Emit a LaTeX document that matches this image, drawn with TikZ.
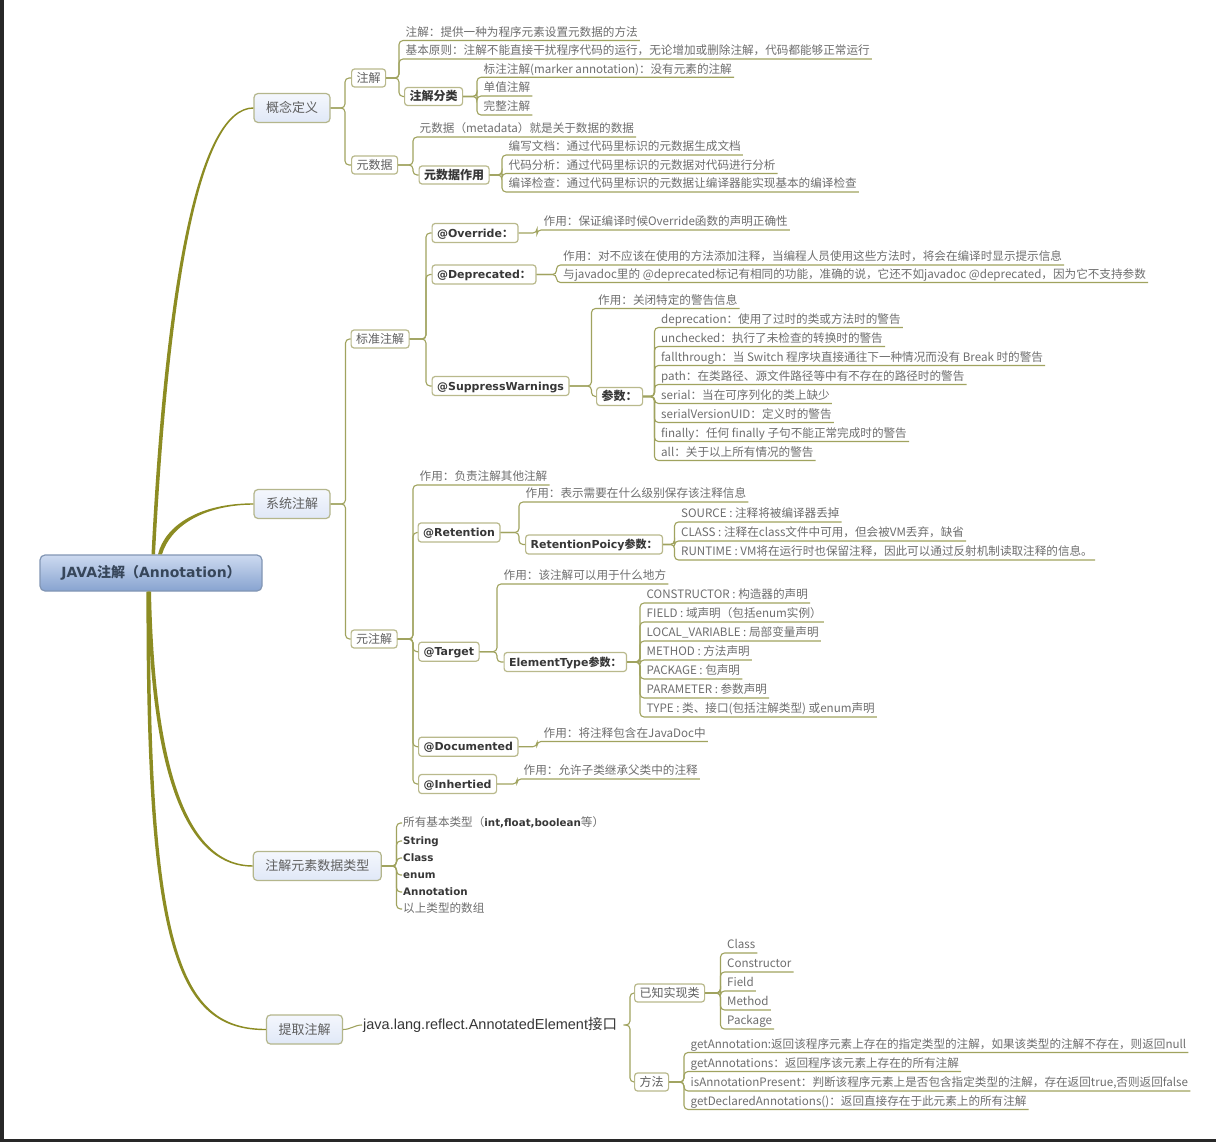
\documentclass[tikz,border=0pt]{standalone}
\usepackage{fontspec}
\setmainfont{Noto Sans CJK SC}
\newfontfamily\dvs{DejaVu Sans}
\newfontfamily\lib{Liberation Sans}
\definecolor{brc}{RGB}{160,163,95}
\definecolor{leafc}{RGB}{110,110,110}
\definecolor{darkc}{RGB}{55,55,55}
\definecolor{boxc}{RGB}{185,185,140}
\definecolor{boxt}{RGB}{95,95,95}
\definecolor{gT}{RGB}{244,247,253}
\definecolor{gB}{RGB}{224,232,247}
\definecolor{gb}{RGB}{180,182,140}
\definecolor{trunkc}{RGB}{140,140,35}
\definecolor{rootT}{RGB}{205,218,240}
\definecolor{rootB}{RGB}{135,163,208}
\definecolor{rootb}{RGB}{130,150,180}
\definecolor{roottx}{RGB}{55,70,90}
\definecolor{framec}{RGB}{40,40,40}
\tikzset{
  br/.style={draw=brc, line width=1.1pt, rounded corners=4pt},
  leaf/.style={anchor=south west, inner xsep=2pt, inner ysep=1pt, text height=9pt, text depth=3pt, font=\fontsize{11.6}{13}\selectfont, text=leafc},
  item/.style={anchor=west, inner xsep=1pt, inner ysep=1pt, text height=9pt, text depth=2.5pt, font=\fontsize{11.6}{13}\selectfont, text=leafc},
  box/.style={draw=boxc, line width=1.2pt, fill=white, rounded corners=3pt, inner xsep=5pt, inner ysep=2pt, minimum height=18pt, text height=10pt, text depth=1.5pt, anchor=west, font=\fontsize{12}{14}\selectfont, text=boxt},
  bbox/.style={box, font=\bfseries\fontsize{12}{14}\selectfont, text=darkc},
  lbox/.style={box, minimum height=19pt, font=\bfseries\fontsize{11}{13}\selectfont, text=darkc},
  gbox/.style={draw=gb, line width=1.2pt, top color=gT, bottom color=gB, rounded corners=4pt, inner xsep=12pt, minimum height=29pt, text height=11pt, text depth=2pt, font=\fontsize{13}{15}\selectfont, text=boxt},
  rootbox/.style={draw=rootb, line width=1.2pt, top color=rootT, bottom color=rootB, rounded corners=5pt, minimum width=222pt, minimum height=36pt, text height=12pt, text depth=3pt, font=\bfseries\fontsize{14}{16}\selectfont, text=roottx},
  trunk/.style={fill=trunkc}
}
\newcommand\lf[5]{\node[leaf] (#1) at ({#3+4.5},#4) {#5};\draw[br] (#2.east) -| ([xshift=-4.5pt]#1.south west) -- (#1.south east);}
\newcommand\bxn[7]{\node[#6] (#1) at (#4,#5) {#7};\draw[br] (#2.east) -| ([xshift=-#3pt]#1.west) -- (#1.west);}
\newcommand\bl[1]{{\dvs\bfseries\fontsize{10.3}{12}\selectfont\color{darkc}#1}}
\begin{document}
\begin{tikzpicture}[x=1pt,y=-1pt]
\useasboundingbox (0,0) rectangle (1216,1142);
\fill[white] (0,0) rectangle (1216,1142);
\fill[framec] (0,0) rectangle (3.5,1142);
\fill[framec] (0,1138.5) rectangle (1216,1142);

% root and first level
\node[rootbox] (root) at (151,573) {{\dvs JAVA}注解（{\dvs Annotation}）};
\node[gbox] (g1) at (292,108) {概念定义};
\node[gbox] (g2) at (292,504) {系统注解};
\node[gbox] (g3) at (317.3,866) {注解元素数据类型};
\node[gbox] (g4) at (304.5,1029.5) {提取注解};

\fill[trunk] ([xshift=0.5pt]root.north) .. controls (166,270) and (200,107.3) .. ([yshift=0.7pt]g1.west) -- ([yshift=-0.7pt]g1.west) .. controls (202,108.7) and (170,270) .. ([xshift=4pt]root.north) -- cycle;
\fill[trunk] ([xshift=7pt]root.north) .. controls (165,525) and (200,503.3) .. ([yshift=0.7pt]g2.west) -- ([yshift=-0.7pt]g2.west) .. controls (203,504.7) and (170,527) .. ([xshift=11pt]root.north) -- cycle;
\fill[trunk] (root.south) .. controls (155,790) and (195,865.3) .. ([yshift=0.7pt]g3.west) -- ([yshift=-0.7pt]g3.west) .. controls (192,866.7) and (151,790) .. ([xshift=-3.5pt]root.south) -- cycle;
\fill[trunk] ([xshift=-1pt]root.south) .. controls (149,950) and (180,1028.8) .. ([yshift=0.7pt]g4.west) -- ([yshift=-0.7pt]g4.west) .. controls (177,1030.2) and (145.5,950) .. ([xshift=-4.5pt]root.south) -- cycle;

% ---- 概念定义
\bxn{n1}{g1}{6}{351}{78}{box}{注解}
\bxn{n2}{g1}{6}{351}{165}{box}{元数据}
\lf{a1}{n1}{399}{40.5}{注解：提供一种为程序元素设置元数据的方法}
\lf{a2}{n1}{399}{59}{基本原则：注解不能直接干扰程序代码的运行，无论增加或删除注解，代码都能够正常运行}
\bxn{n3}{n1}{5}{404}{96.5}{bbox}{注解分类}
\lf{b1}{n3}{477}{77.3}{标注注解(marker annotation)：没有元素的注解}
\lf{b2}{n3}{477}{96}{单值注解}
\lf{b3}{n3}{477}{115}{完整注解}
\lf{c1}{n2}{413}{137}{元数据（metadata）就是关于数据的数据}
\bxn{n4}{n2}{5.5}{418.5}{175}{bbox}{元数据作用}
\lf{d1}{n4}{502}{155}{编写文档：通过代码里标识的元数据生成文档}
\lf{d2}{n4}{502}{173.5}{代码分析：通过代码里标识的元数据对代码进行分析}
\lf{d3}{n4}{502}{192}{编译检查：通过代码里标识的元数据让编译器能实现基本的编译检查}

% ---- 系统注解
\bxn{s1}{g2}{5}{350.5}{339}{box}{标准注解}
\bxn{s2}{g2}{5}{350.5}{639}{box}{元注解}
\bxn{o1}{s1}{5.5}{431.5}{233}{lbox}{{\dvs @Override}：}
\bxn{o2}{s1}{5.5}{431.5}{274.5}{lbox}{{\dvs @Deprecated}：}
\bxn{o3}{s1}{5.5}{431.5}{386}{lbox}{{\dvs @SuppressWarnings}}
\lf{e1}{o1}{537}{230}{作用：保证编译时候Override函数的声明正确性}
\lf{e2}{o2}{556.5}{265}{作用：对不应该在使用的方法添加注释，当编程人员使用这些方法时，将会在编译时显示提示信息}
\lf{e3}{o2}{556.5}{282.5}{与javadoc里的 @deprecated标记有相同的功能，准确的说，它还不如javadoc @deprecated，因为它不支持参数}
\lf{f1}{o3}{591.5}{308.5}{作用：关闭特定的警告信息}
\bxn{p1}{o3}{4.5}{596}{396.5}{bbox}{参数：}
\lf{h1}{p1}{654.5}{327.5}{deprecation：使用了过时的类或方法时的警告}
\lf{h2}{p1}{654.5}{346.5}{unchecked：执行了未检查的转换时的警告}
\lf{h3}{p1}{654.5}{365.5}{fallthrough：当 Switch 程序块直接通往下一种情况而没有 Break 时的警告}
\lf{h4}{p1}{654.5}{384.5}{path：在类路径、源文件路径等中有不存在的路径时的警告}
\lf{h5}{p1}{654.5}{403.5}{serial：当在可序列化的类上缺少}
\lf{h6}{p1}{654.5}{422.5}{serialVersionUID：定义时的警告}
\lf{h7}{p1}{654.5}{441.5}{finally：任何 finally 子句不能正常完成时的警告}
\lf{h8}{p1}{654.5}{460.5}{all：关于以上所有情况的警告}

\lf{m0}{s2}{413}{485}{作用：负责注解其他注解}
\bxn{r1}{s2}{4.5}{417.5}{532.5}{lbox}{{\dvs @Retention}}
\bxn{t1}{s2}{5}{418}{651.7}{lbox}{{\dvs @Target}}
\bxn{u1}{s2}{5}{418}{746.7}{lbox}{{\dvs @Documented}}
\bxn{v1}{s2}{5}{418}{784}{lbox}{{\dvs @Inhertied}}
\lf{r0}{r1}{519}{502}{作用：表示需要在什么级别保存该注释信息}
\bxn{r2}{r1}{6}{525}{544.5}{lbox}{{\dvs RetentionPoicy}参数：}
\lf{q1}{r2}{674.5}{522}{SOURCE : 注释将被编译器丢掉}
\lf{q2}{r2}{674.5}{541}{CLASS : 注释在class文件中可用，但会被VM丢弃，缺省}
\lf{q3}{r2}{674.5}{560}{RUNTIME : VM将在运行时也保留注释，因此可以通过反射机制读取注释的信息。}
\lf{t0}{t1}{497}{584}{作用：该注解可以用于什么地方}
\bxn{t2}{t1}{6.5}{503.5}{662}{lbox}{{\dvs ElementType}参数：}
\lf{w1}{t2}{640}{603}{CONSTRUCTOR : 构造器的声明}
\lf{w2}{t2}{640}{622}{FIELD : 域声明（包括enum实例）}
\lf{w3}{t2}{640}{641}{LOCAL\_VARIABLE : 局部变量声明}
\lf{w4}{t2}{640}{660}{METHOD : 方法声明}
\lf{w5}{t2}{640}{679}{PACKAGE : 包声明}
\lf{w6}{t2}{640}{698}{PARAMETER : 参数声明}
\lf{w7}{t2}{640}{717}{TYPE : 类、接口(包括注解类型) 或enum声明}
\lf{u0}{u1}{537}{741.5}{作用：将注释包含在JavaDoc中}
\lf{v0}{v1}{517}{779}{作用：允许子类继承父类中的注释}

% ---- 注解元素数据类型
\node[item] (i1) at (402,823) {所有基本类型（\bl{int,float,boolean}等）};
\node[item] (i2) at (402,841) {\bl{String}};
\node[item] (i3) at (402,858) {\bl{Class}};
\node[item] (i4) at (402,875) {\bl{enum}};
\node[item] (i5) at (402,892) {\bl{Annotation}};
\node[item] (i6) at (402,909) {以上类型的数组};
\foreach \k in {i1,i2,i3,i4,i5,i6}{\draw[br] (g3.east) -| ([xshift=-5.5pt]\k.west) -- (\k.west);}

% ---- 提取注解
\node[anchor=west, inner xsep=1pt, inner ysep=1pt, text height=11pt, text depth=3pt, font=\fontsize{14.5}{16}\selectfont, text=darkc] (jt) at (362,1025) {{\lib java.lang.reflect.AnnotatedElement}接口};
\draw[br] (g4.east) to[out=0,in=180] (jt.west);
\node[box] (k1) at (634,993) {已知实现类};
\node[box] (k2) at (634,1082) {方法};
\draw[br] ([xshift=8pt]jt.east) -| ([xshift=-4pt]k1.west) -- (k1.west);
\draw[br] ([xshift=8pt]jt.east) -| ([xshift=-4pt]k2.west) -- (k2.west);
\lf{x1}{k1}{720.5}{953}{Class}
\lf{x2}{k1}{720.5}{972}{Constructor}
\lf{x3}{k1}{720.5}{991}{Field}
\lf{x4}{k1}{720.5}{1010}{Method}
\lf{x5}{k1}{720.5}{1029}{Package}
\lf{y1}{k2}{684}{1052.5}{getAnnotation:返回该程序元素上存在的指定类型的注解，如果该类型的注解不存在，则返回null}
\lf{y2}{k2}{684}{1071.5}{getAnnotations：返回程序该元素上存在的所有注解}
\lf{y3}{k2}{684}{1091}{isAnnotationPresent：判断该程序元素上是否包含指定类型的注解，存在返回true,否则返回false}
\lf{y4}{k2}{684}{1109.5}{getDeclaredAnnotations()：返回直接存在于此元素上的所有注解}
\end{tikzpicture}
\end{document}
